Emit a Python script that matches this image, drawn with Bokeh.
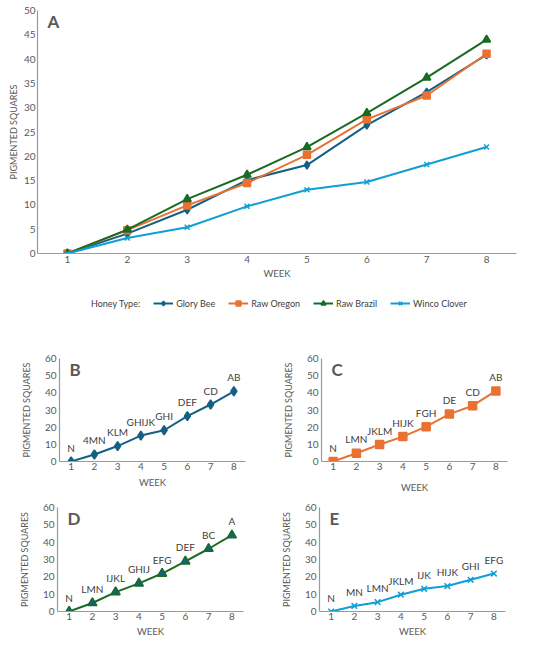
from bokeh.plotting import figure
from bokeh.models import Range1d, Legend, LegendItem, Label, ColumnDataSource, FixedTicker
from bokeh.layouts import column, row
from bokeh.embed import file_html
from bokeh.resources import INLINE
from bokeh.core.properties import value

# ---------------- data ----------------
weeks = [1, 2, 3, 4, 5, 6, 7, 8]
glory_bee = [0, 4.1, 9.0, 15.1, 18.2, 26.4, 33.2, 40.9]
raw_oregon = [0, 4.8, 9.9, 14.5, 20.3, 27.6, 32.5, 41.1]
raw_brazil = [0, 4.9, 11.2, 16.2, 21.9, 28.9, 36.2, 44.0]
winco_clover = [0, 3.2, 5.4, 9.7, 13.1, 14.7, 18.3, 21.9]

letters_glory_bee = ["N", "4MN", "KLM", "GHIJK", "GHI", "DEF", "CD", "AB"]
letters_raw_oregon = ["N", "LMN", "JKLM", "HIJK", "FGH", "DE", "CD", "AB"]
letters_raw_brazil = ["N", "LMN", "IJKL", "GHIJ", "EFG", "DEF", "BC", "A"]
letters_winco_clover = ["N", "MN", "LMN", "JKLM", "IJK", "HIJK", "GHI", "EFG"]

series_names = ["Glory Bee", "Raw Oregon", "Raw Brazil", "Winco Clover"]
y_ticks_a = [0, 5, 10, 15, 20, 25, 30, 35, 40, 45, 50]
y_ticks_small = [0, 10, 20, 30, 40, 50, 60]

# ---------------- styles ----------------
FONT = "Lato"
C_BLUE = "#156082"
C_ORANGE = "#E97132"
C_GREEN = "#196B24"
C_LBLUE = "#0F9ED5"
AX = "#9A9A9A"
TXT = "#595959"


def style(p, xstand, xlab_stand, ystand, ylab_stand, tick_fs="10px", lab_fs="9px"):
    p.grid.visible = False
    p.outline_line_color = None
    p.background_fill_color = None
    p.border_fill_color = None
    for ax in (p.xaxis[0], p.yaxis[0]):
        ax.axis_line_color = AX
        ax.axis_line_width = 1.2
        ax.major_tick_line_color = None
        ax.minor_tick_line_color = None
        ax.major_tick_out = 0
        ax.major_tick_in = 0
        ax.major_label_text_font = FONT
        ax.major_label_text_font_size = tick_fs
        ax.major_label_text_color = TXT
        ax.axis_label_text_font = FONT
        ax.axis_label_text_font_style = "normal"
        ax.axis_label_text_color = TXT
        ax.axis_label_text_font_size = lab_fs
    p.xaxis[0].major_label_standoff = xstand
    p.xaxis[0].axis_label_standoff = xlab_stand
    p.yaxis[0].major_label_standoff = ystand
    p.yaxis[0].axis_label_standoff = ylab_stand
    p.xaxis[0].axis_label = "WEEK"
    p.xaxis[0].axis_label_text_font_size = "9.5px"
    p.yaxis[0].axis_label = "PIGMENTED SQUARES"
    p.xaxis[0].ticker = FixedTicker(ticks=weeks)


def panel_letter(p, letter, ytop):
    p.add_layout(Label(x=0.5, y=ytop, x_offset=10, y_offset=0, text=letter,
                       text_baseline="top", text_align="left",
                       text_font=FONT, text_font_style="bold",
                       text_font_size="17px", text_color=TXT))


specs = [
    (glory_bee, C_BLUE, "diamond", 8),
    (raw_oregon, C_ORANGE, "square", 7),
    (raw_brazil, C_GREEN, "triangle", 8),
    (winco_clover, C_LBLUE, "x", 7),
]

# ---------------- panel A ----------------
pA = figure(width=540, height=289, x_range=Range1d(0.5, 8.5), y_range=Range1d(0, 50),
            output_backend="svg", toolbar_location=None,
            min_border_left=37, min_border_right=24, min_border_top=10, min_border_bottom=36)
style(pA, xstand=2, xlab_stand=2, ystand=2, ylab_stand=2)
pA.yaxis[0].ticker = FixedTicker(ticks=y_ticks_a)

for vals, col, mk, sz in specs:
    pA.line(weeks, vals, line_color=col, line_width=2)
    pA.scatter(weeks, vals, marker=mk, size=sz, line_color=col, fill_color=col, line_width=1.5)
panel_letter(pA, "A", 50)

# ---------------- legend strip (same series, kept outside its own view) ----------------
pL = figure(width=540, height=29, x_range=Range1d(100, 101), y_range=Range1d(100, 101),
            output_backend="svg", toolbar_location=None,
            min_border_left=0, min_border_right=0, min_border_top=0, min_border_bottom=0)
pL.axis.visible = False
pL.grid.visible = False
pL.outline_line_color = None
pL.background_fill_color = None
pL.border_fill_color = None
items = []
dummy = pL.line(x=[], y=[], line_alpha=0)
items.append(LegendItem(label="Honey Type:", renderers=[dummy]))
for name, (vals, col, mk, sz) in zip(series_names, specs):
    l = pL.line(weeks, vals, line_color=col, line_width=2)
    s = pL.scatter(weeks, vals, marker=mk, size=sz, line_color=col, fill_color=col, line_width=1.5)
    items.append(LegendItem(label=name, renderers=[l, s]))
legend = Legend(items=items, orientation="horizontal", location=(31, 9),
                border_line_alpha=0, background_fill_alpha=0,
                label_text_font=FONT, label_text_font_size="9px",
                label_text_color="#404040", glyph_width=20, glyph_height=12,
                spacing=13, label_standoff=3, padding=0, margin=0)
pL.add_layout(legend, "center")


# ---------------- small panels ----------------
def small(vals, letters, col, mk, sz, letter, w, h, bl, br, bt, bb, xlab_stand, fill=None):
    p = figure(width=w, height=h, x_range=Range1d(0.5, 8.5), y_range=Range1d(0, 60),
               output_backend="svg", toolbar_location=None,
               min_border_left=bl, min_border_right=br, min_border_top=bt, min_border_bottom=bb)
    style(p, xstand=1, xlab_stand=xlab_stand, ystand=3, ylab_stand=10)
    p.yaxis[0].ticker = FixedTicker(ticks=y_ticks_small)
    src = ColumnDataSource(dict(x=weeks, y=vals, t=letters))
    p.line("x", "y", source=src, line_color=col, line_width=2)
    p.scatter("x", "y", source=src, marker=mk, size=sz, line_color=col,
              fill_color=fill if fill else col, line_width=1.5)
    p.text("x", "y", text="t", source=src, y_offset=-14, text_align="center",
           text_baseline="middle", text_font=value(FONT), text_font_size="10px",
           text_color="#404040")
    panel_letter(p, letter, 60)
    return p


pB = small(glory_bee, letters_glory_bee, C_BLUE, "diamond", 9, "B", 275, 184, 59, 30, 40, 41, 4)
pC = small(raw_oregon, letters_raw_oregon, C_ORANGE, "square", 8, "C", 262, 184, 46, 30, 40, 41, 9)
pD = small(raw_brazil, letters_raw_brazil, C_GREEN, "triangle", 9, "D", 275, 143, 57, 32, 5, 34, 3, fill=C_BLUE)
pE = small(winco_clover, letters_winco_clover, C_LBLUE, "x", 8, "E", 262, 143, 44, 32, 5, 34, 3)

layout = column(pA, pL, row(pB, pC), row(pD, pE))
open("out.html", "w").write(file_html(layout, INLINE))
